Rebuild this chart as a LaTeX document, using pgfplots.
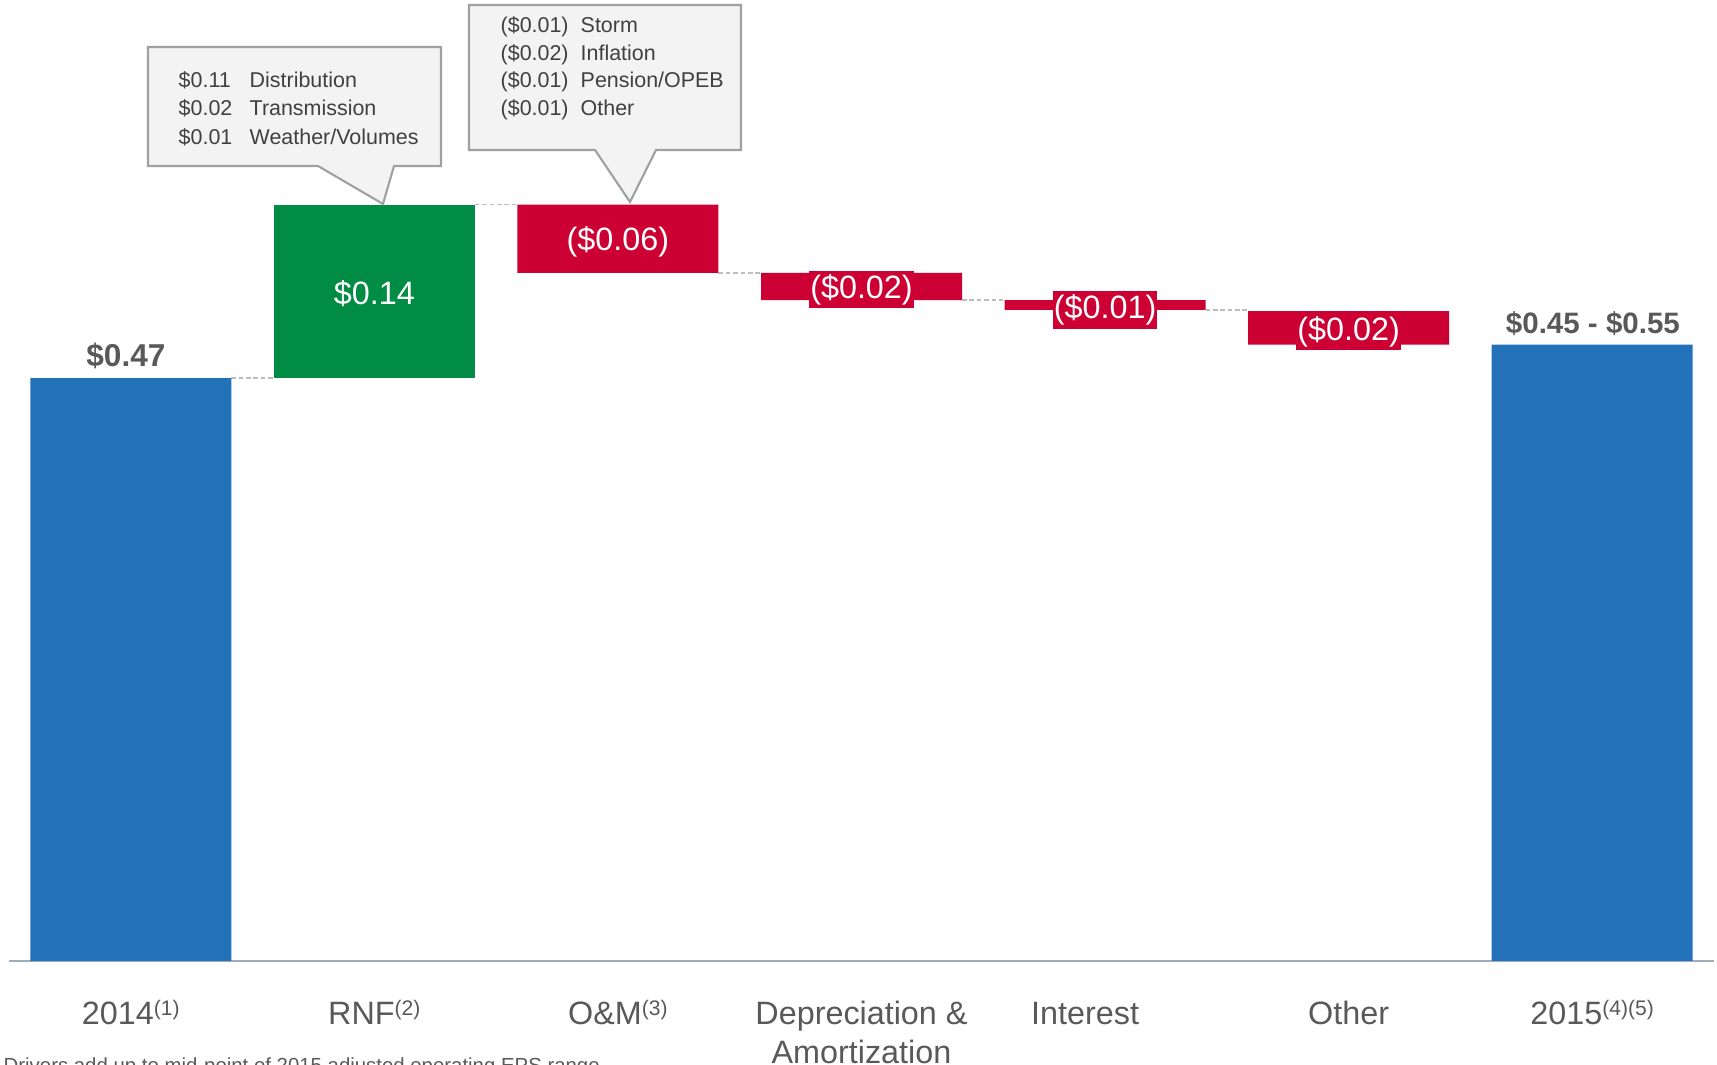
\documentclass[border=0pt]{standalone}
\usepackage{fontspec}
\setmainfont{Liberation Sans}
\usepackage{pgfplots}
\pgfplotsset{compat=1.18}

\definecolor{barblue}{RGB}{35,114,185}
\definecolor{bargreen}{RGB}{0,140,69}
\definecolor{barred}{RGB}{204,0,51}
\definecolor{txtgray}{RGB}{89,89,89}
\definecolor{cotext}{RGB}{64,64,64}
\definecolor{axisgray}{RGB}{160,172,184}
\definecolor{boxfill}{RGB}{243,243,243}
\definecolor{boxline}{RGB}{160,160,160}
\definecolor{dashgray}{RGB}{190,190,190}

\newcommand{\cofont}{\fontsize{6.1}{7}\selectfont}
\newcommand{\valfont}{\fontsize{9.2}{11}\selectfont}
\newcommand{\fn}[1]{\raisebox{2.6pt}{\fontsize{6}{7}\selectfont(#1)}}

\begin{document}
\begin{tikzpicture}
\begin{axis}[
  scale only axis, width=170.5mm, height=96.1mm,
  xmin=-0.5, xmax=6.5, ymin=0, ymax=0.775,
  ybar stacked, bar width=20.1mm,
  axis y line=none, axis x line*=bottom,
  x axis line style={draw=axisgray, line width=0.6pt, -},
  xtick={0,...,6}, major tick length=0,
  xticklabels={
    2014\fn{1},
    RNF\fn{2},
    O\&M\fn{3},
    {\begin{tabular}[t]{@{}c@{}}Depreciation \&\\Amortization\end{tabular}},
    Interest\hspace*{4mm},
    Other,
    2015\fn{4}\fn{5}},
  xticklabel style={font=\fontsize{9.2}{11}\selectfont, text=txtgray, anchor=base, yshift=-6.35mm},
  clip=false,
]
% invisible base of the floating bars
\addplot[fill=none, draw=none] coordinates {(0,0)(1,0.47)(2,0.555)(3,0.533)(4,0.525)(5,0.497)(6,0)};
\addplot[fill=barblue, draw=none] coordinates {(0,0.47)(1,0)(2,0)(3,0)(4,0)(5,0)(6,0.497)};
\addplot[fill=bargreen, draw=none] coordinates {(0,0)(1,0.14)(2,0)(3,0)(4,0)(5,0)(6,0)};
\addplot[fill=barred, draw=none] coordinates {(0,0)(1,0)(2,0.055)(3,0.022)(4,0.008)(5,0.027)(6,0)};

% connectors
\tikzset{conn/.style={draw=dashgray, line width=0.5pt, dash pattern=on 1.3pt off 0.8pt}}
\draw[conn] (axis cs:0.4126,0.47) -- (axis cs:0.5874,0.47);
\draw[conn] (axis cs:1.4126,0.61) -- (axis cs:1.5874,0.61);
\draw[conn] (axis cs:2.4126,0.555) -- (axis cs:2.5874,0.555);
\draw[conn] (axis cs:3.4126,0.533) -- (axis cs:3.5874,0.533);
\draw[conn] (axis cs:4.4126,0.525) -- (axis cs:4.5874,0.525);

% anchor points for the value labels (drawn after the axis, above the bars)
\coordinate (v1) at (axis cs:1,0.54);
\coordinate (v2) at (axis cs:2,0.582);
\coordinate (v3) at (axis cs:3,0.5435);
\coordinate (v4) at (axis cs:4,0.527);
\coordinate (v5) at (axis cs:5,0.5097);
\coordinate (t0) at (axis cs:-0.02,0.488);
\coordinate (t6) at (axis cs:6.003,0.514);
\end{axis}

\tikzset{vlab/.style={text=white, font=\valfont, inner xsep=0.3pt, inner ysep=1pt, yshift=-0.25mm}}
\node[vlab, fill=bargreen] at (v1) {\$0.14};
\node[vlab, fill=barred] at (v2) {(\$0.06)};
\node[vlab, fill=barred] at (v3) {(\$0.02)};
\node[vlab, fill=barred] at (v4) {(\$0.01)};
\node[vlab, fill=barred] at (v5) {(\$0.02)};
\node[text=txtgray, font=\fontsize{9}{11}\selectfont\bfseries] at (t0) {\$0.47};
\node[text=txtgray, font=\fontsize{8.4}{10}\selectfont\bfseries] at (t6) {\$0.45 - \$0.55};

\begin{scope}[x=0.1mm, y=-0.1mm, shift={(current axis.south west)}, xshift=-0.9mm, yshift=96.1mm]
  \tikzset{callout/.style={draw=boxline, fill=boxfill, line width=0.6pt, line join=miter},
           ct/.style={anchor=base west, inner sep=0, font=\cofont, text=cotext}}
  \draw[callout] (148,47) -- (441,47) -- (441,166) -- (394,166) -- (383,204) -- (318,166) -- (148,166) -- cycle;
  \node[ct] at (178,88) {\$0.11};  \node[ct] at (249,88) {Distribution};
  \node[ct] at (178,116) {\$0.02}; \node[ct] at (249,116) {Transmission};
  \node[ct] at (178,145) {\$0.01}; \node[ct] at (249,145) {Weather/Volumes};

  \draw[callout] (469,5) -- (741,5) -- (741,150) -- (656,150) -- (630,202) -- (595,150) -- (469,150) -- cycle;
  \node[ct] at (500,33) {(\$0.01)}; \node[ct] at (580,33) {Storm};
  \node[ct] at (500,61) {(\$0.02)}; \node[ct] at (580,61) {Inflation};
  \node[ct] at (500,88) {(\$0.01)}; \node[ct] at (580,88) {Pension/OPEB};
  \node[ct] at (500,116) {(\$0.01)}; \node[ct] at (580,116) {Other};

  % footnote, cut off by the page edge as in the reference
  \node[anchor=base west, inner sep=0, font=\fontsize{5.8}{7}\selectfont, text=txtgray] at (3,1073)
    {Drivers add up to mid-point of 2015 adjusted operating EPS range};

  \pgfresetboundingbox
  \path[use as bounding box] (0,0) rectangle (1717,1065);
\end{scope}
\end{tikzpicture}
\end{document}
